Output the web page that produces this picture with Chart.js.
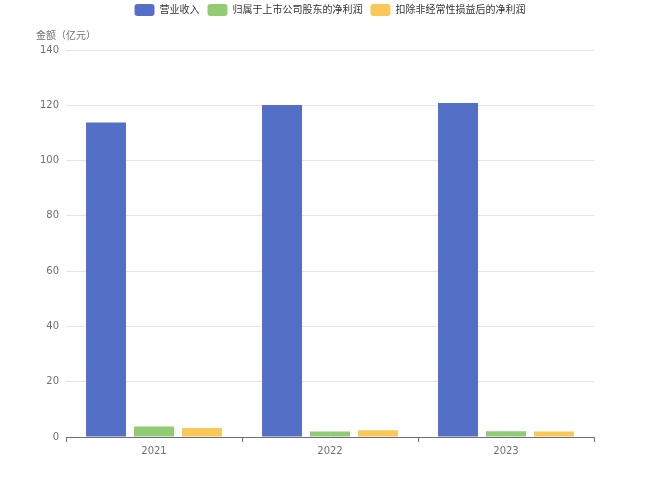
<!DOCTYPE html>
<html>
<head>
<meta charset="utf-8">
<script src="https://cdn.jsdelivr.net/npm/chart.js@4/dist/chart.umd.min.js"></script>
<style>
  html, body { margin: 0; padding: 0; background: #fff; }
  #wrap { width: 660px; height: 495px; }
</style>
</head>
<body>
<div id="wrap"><canvas id="c"></canvas></div>
<script>
// values (亿元)
const years = ['2021', '2022', '2023'];
const revenue = [113.8, 120.1, 120.8];
const netProfit = [3.8, 2.0, 2.1];
const netProfitDeducted = [3.3, 2.4, 2.0];
const yTicks = [0, 20, 40, 60, 80, 100, 120, 140];
const seriesNames = ['营业收入', '归属于上市公司股东的净利润', '扣除非经常性损益后的净利润'];
const axisName = '金额（亿元）';

Chart.defaults.font.family = "'DejaVu Sans', 'Noto Sans CJK SC', sans-serif";
Chart.defaults.font.size = 10;
Chart.defaults.color = '#6E7079';

const ctx = document.getElementById('c').getContext('2d');
new Chart(ctx, {
  type: 'bar',
  data: {
    labels: years,
    datasets: [
      { label: seriesNames[0], data: revenue, backgroundColor: '#5470C6' },
      { label: seriesNames[1], data: netProfit, backgroundColor: '#91CC75' },
      { label: seriesNames[2], data: netProfitDeducted, backgroundColor: '#FAC858' },
    ],
  },
  options: {
    responsive: true,
    maintainAspectRatio: false,
    animation: false,
    layout: { padding: { top: -4, left: 36, right: 36, bottom: 0 } },
    datasets: { bar: { categoryPercentage: 0.818, barPercentage: 0.833 } },
    plugins: {
      legend: {
        position: 'top',
        labels: {
          boxWidth: 20,
          boxHeight: 12,
          padding: 8,
          color: '#333',
          useBorderRadius: true,
          borderRadius: 3,
          font: { size: 10 },
        },
      },
      title: {
        display: true,
        text: axisName,
        align: 'start',
        weight: 500,
        color: '#6E7079',
        font: { family: "'Noto Sans CJK SC', sans-serif", size: 10, weight: 'normal', lineHeight: 1.2 },
        padding: { top: 3, bottom: 9 },
      },
      tooltip: { enabled: false },
    },
    scales: {
      x: {
        offset: true,
        border: { display: true, color: '#6E7079' },
        grid: { display: true, drawOnChartArea: false, drawTicks: true, tickLength: 5, color: '#6E7079', offset: true },
        ticks: { padding: 3, color: '#6E7079' },
        afterFit: (s) => { s.height = 58; },
      },
      y: {
        min: 0,
        max: 140,
        afterBuildTicks: (s) => { s.ticks = yTicks.map(v => ({ value: v })); },
        border: { display: false },
        grid: { color: '#E0E6F1', drawTicks: false },
        ticks: { padding: 7, color: '#6E7079' },
        afterFit: (s) => { s.width = 30; },
      },
      yRight: {
        position: 'right',
        display: true,
        border: { display: false },
        grid: { display: false, drawTicks: false },
        ticks: { display: false },
        afterFit: (s) => { s.width = 30; },
      },
    },
  },
});
</script>
</body>
</html>
